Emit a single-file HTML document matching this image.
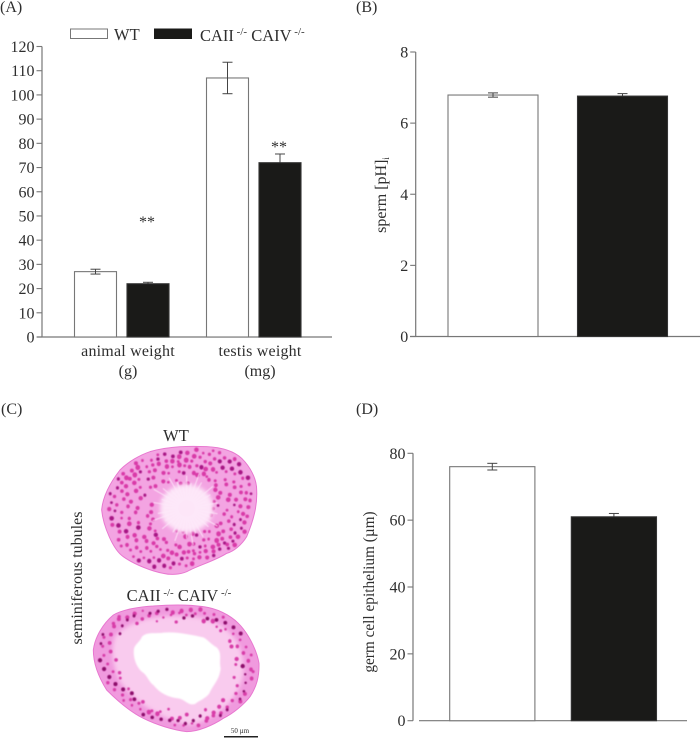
<!DOCTYPE html>
<html lang="en">
<head>
<meta charset="utf-8">
<title>Weights, sperm pH and germ cell epithelium in WT and CAII/CAIV knockout mice</title>
<style>
html,body{margin:0;padding:0;background:#fff;}
svg{display:block;}
text{font-family:"Liberation Serif",serif;fill:#2e2e2e;}
</style>
</head>
<body>
<svg id="fig" xmlns="http://www.w3.org/2000/svg" width="700" height="738" viewBox="0 0 700 738">
  <defs>
    <filter id="soft" x="-5%" y="-5%" width="110%" height="110%"><feGaussianBlur stdDeviation="2"/></filter>
    <filter id="soft2" x="-10%" y="-10%" width="120%" height="120%"><feGaussianBlur stdDeviation="6"/></filter>
    <filter id="dots" x="-2%" y="-2%" width="104%" height="104%"><feGaussianBlur stdDeviation="1.3"/></filter>
  </defs>
  <text x="0" y="12" font-size="16">(A)</text>
  <text x="356" y="12" font-size="16">(B)</text>
  <text x="1" y="414" font-size="16">(C)</text>
  <text x="356" y="414" font-size="16">(D)</text>

  <g>
    <rect x="70.5" y="29" width="37" height="9.5" fill="#fff" stroke="#777" stroke-width="1"/>
    <text x="114" y="40" font-size="16.5">WT</text>
    <rect x="154.5" y="29" width="37" height="9.5" fill="#1a1a18" stroke="#1a1a18" stroke-width="1"/>
    <text x="200" y="41" font-size="16.5">CAII<tspan font-size="11" dy="-6"> -/-</tspan><tspan dy="6"> CAIV</tspan><tspan font-size="11" dy="-6"> -/-</tspan></text>
  </g>

  <g id="panel-a"></g>
  <g id="panel-b"></g>
  <g id="panel-d"></g>

  <g>
    <text x="176" y="441" font-size="16.5" text-anchor="middle">WT</text>
    <text x="179" y="601" font-size="16.5" text-anchor="middle">CAII<tspan font-size="11" dy="-5"> -/-</tspan><tspan dy="5"> CAIV</tspan><tspan font-size="11" dy="-5"> -/-</tspan></text>
    <text transform="translate(82,578) rotate(-90)" font-size="16" text-anchor="middle">seminiferous tubules</text>
    <g transform="translate(60,410) scale(0.33333)">
      <g>
        <path id="wt-outline" fill="#f3a4e2" stroke="#e878d0" stroke-width="3" d="M125 300C128 265 145 225 180 180C205 155 240 135 270 125C330 108 390 108 440 110C480 112 520 122 545 145C570 170 590 205 590 240C592 280 585 320 560 380C545 405 520 425 500 430C470 450 420 465 390 480C370 492 340 497 310 490C280 485 225 465 190 440C160 420 130 350 125 300Z"/>
        <path id="wt-nuclei-light" fill="#d93aa8" filter="url(#dots)"/>
        <path id="wt-nuclei-dark" fill="#a81585" filter="url(#dots)"/>
        <ellipse cx="380" cy="295" rx="80" ry="72" fill="#fde6f8" filter="url(#soft2)"/>
        <path id="wt-rays" fill="none" stroke="#fdeafa" stroke-width="2.5" filter="url(#dots)"/>
      </g>
      <g>
        <path id="ko-outline" fill="#f09ade" stroke="#e878d0" stroke-width="3" d="M100 720C105 680 130 640 160 615C190 598 240 590 280 588C330 584 390 584 430 590C470 595 510 615 535 640C565 670 590 720 597 760C598 800 590 830 570 860C550 885 520 910 490 925C460 945 415 965 380 965C340 960 290 945 250 925C210 905 170 870 140 840C115 800 100 760 100 720Z"/>
        <path fill="#f9cbee" filter="url(#soft2)" d="M165 680C220 615 340 610 430 625C525 650 555 720 550 790C540 860 480 925 390 945C300 930 220 870 180 815C160 770 150 725 165 680Z"/>
        <path id="ko-nuclei-light" fill="#d83ca8" filter="url(#dots)"/>
        <path id="ko-nuclei-dark" fill="#8e0a6c" filter="url(#dots)"/>
        <path fill="#fff" filter="url(#soft)" d="M222 715C228 700 240 695 246 680C262 664 290 672 310 668C350 664 400 676 430 682C445 690 452 702 470 712C488 730 476 750 482 775C478 810 462 820 448 850C436 866 420 870 405 882C385 888 375 868 355 865C325 862 300 850 280 825C265 815 262 795 245 785C230 770 218 745 222 715Z"/>
      </g>
    </g>
    <text x="240" y="733" font-size="7" text-anchor="middle">50 µm</text>
    <rect x="224" y="736" width="34" height="1.5" fill="#222"/>
  </g>
</svg>

<script>
// Panel A data
var weightCategories = ["animal weight", "testis weight"];
var weightUnits = ["(g)", "(mg)"];
var weightWT = [27, 107];
var weightKO = [22, 72];
var weightWTErr = [1, 6.5];
var weightKOErr = [0.6, 3.6];
var weightTicks = [0, 10, 20, 30, 40, 50, 60, 70, 80, 90, 100, 110, 120];
var weightStarLevels = [48.3, 79.3];

// Panel B data
var phValues = [6.79, 6.76];
var phErrors = [0.06, 0.07];
var phTicks = [0, 2, 4, 6, 8];

// Panel D data
var epitheliumValues = [76, 61];
var epitheliumErrors = [1, 1];
var epitheliumTicks = [0, 20, 40, 60, 80];

var NS = "http://www.w3.org/2000/svg";
var BLACK = "#1a1a18";
var GREY = "#777";

function make(parent, tag, attrs, name) {
  var n = document.createElementNS(NS, tag);
  for (var k in attrs) n.setAttribute(k, attrs[k]);
  
  
  parent.appendChild(n);
  return n;
}
function scale(y0, yTop, max) {
  return function (v) { return y0 - v * (y0 - yTop) / max; };
}
function yAxis(parent, x, y, ticks, fontSize) {
  make(parent, "line", {x1: x, x2: x, y1: y(ticks[ticks.length - 1]), y2: y(0), stroke: GREY, "stroke-width": 1.2}, "y-axis");
  ticks.forEach(function (t) {
    make(parent, "line", {x1: x - 5.5, x2: x, y1: y(t), y2: y(t), stroke: GREY, "stroke-width": 1.1}, "y-axis-tick");
    var lab = make(parent, "text", {x: x - 7.5, y: y(t) + 5.5, "font-size": fontSize, "text-anchor": "end"}, "y-axis-tick-label");
    lab.textContent = t;
  });
}
function bar(parent, x, w, y, value, dark, name) {
  make(parent, "rect", {
    x: x, y: y(value), width: w, height: y(0) - y(value),
    fill: dark ? BLACK : "#fff", stroke: dark ? "#333" : GREY, "stroke-width": 1.1
  }, name);
}
function errorBar(parent, cx, y, value, err, cap, name) {
  var c = "#444";
  make(parent, "line", {x1: cx, x2: cx, y1: y(value + err), y2: y(value - err), stroke: c, "stroke-width": 1}, name + "-stem");
  make(parent, "line", {x1: cx - cap, x2: cx + cap, y1: y(value + err), y2: y(value + err), stroke: c, "stroke-width": 1}, name + "-cap-top");
  make(parent, "line", {x1: cx - cap, x2: cx + cap, y1: y(value - err), y2: y(value - err), stroke: c, "stroke-width": 1}, name + "-cap-bottom");
}

// Panel A
(function () {
  var g = document.getElementById("panel-a");
  var y = scale(337, 46.5, 120);
  yAxis(g, 42, y, weightTicks, 16);
  make(g, "line", {x1: 37, x2: 332, y1: y(0), y2: y(0), stroke: GREY, "stroke-width": 1.2}, "x-axis");
  weightCategories.forEach(function (cat, i) {
    var wtX = 74.5 + i * 132, koX = wtX + 52.5, w = 42;
    bar(g, wtX, w, y, weightWT[i], false, "bar-wt-" + i);
    errorBar(g, koX + w / 2, y, weightKO[i], weightKOErr[i], 5, "error-knockout-" + i);
    bar(g, koX, w, y, weightKO[i], true, "bar-knockout-" + i);
    errorBar(g, wtX + w / 2, y, weightWT[i], weightWTErr[i], 5, "error-wt-" + i);
    var cx = 128 + i * 132;
    var a = make(g, "text", {x: cx, y: 356, "font-size": 16, "text-anchor": "middle", "letter-spacing": 0.2}, "x-axis-category-label");
    a.textContent = cat;
    var b = make(g, "text", {x: cx, y: 376, "font-size": 16, "text-anchor": "middle"}, "x-axis-unit-label");
    b.textContent = weightUnits[i];
    var s = make(g, "text", {x: koX + w / 2 - 1, y: y(weightStarLevels[i]) + 7, "font-size": 16, "text-anchor": "middle"}, "significance-marker");
    s.textContent = "**";
  });
})();

// Panel B
(function () {
  var g = document.getElementById("panel-b");
  var y = scale(336.5, 52, 8);
  yAxis(g, 415.7, y, phTicks, 16);
  make(g, "line", {x1: 410, x2: 700, y1: y(0), y2: y(0), stroke: GREY, "stroke-width": 1.2}, "x-axis");
  phValues.forEach(function (v, i) {
    var x = 448 + i * 129.5, w = 90;
    if (i === 1) errorBar(g, x + w / 2, y, v, phErrors[i], 5, "error-knockout");
    bar(g, x, w, y, v, i === 1, "bar-" + (i ? "knockout" : "wt"));
    if (i === 0) errorBar(g, x + w / 2, y, v, phErrors[i], 5, "error-wt");
  });
  var t = make(g, "text", {transform: "translate(386,195) rotate(-90)", "font-size": 16, "text-anchor": "middle"}, "y-axis-title");
  t.innerHTML = 'sperm [pH]<tspan font-size="9" dy="3">i</tspan>';
})();

// Panel D
(function () {
  var g = document.getElementById("panel-d");
  var y = scale(720.7, 453.3, 80);
  yAxis(g, 413, y, epitheliumTicks, 16);
  make(g, "line", {x1: 419, x2: 687, y1: y(0), y2: y(0), stroke: GREY, "stroke-width": 1.2}, "x-axis");
  epitheliumValues.forEach(function (v, i) {
    var x = 449.7 + i * 121.6, w = 85.2;
    if (i === 1) errorBar(g, x + w / 2, y, v, epitheliumErrors[i], 5, "error-knockout");
    bar(g, x, w, y, v, i === 1, "bar-" + (i ? "knockout" : "wt"));
    if (i === 0) errorBar(g, x + w / 2, y, v, epitheliumErrors[i], 5, "error-wt");
  });
  var t = make(g, "text", {transform: "translate(374,592) rotate(-90)", "font-size": 15.3, "text-anchor": "middle"}, "y-axis-title");
  t.textContent = "germ cell epithelium (µm)";
})();

// Decorative histology texture: nuclei scattered by golden-ratio stepping
function scatter(outlineId, lightId, darkId, cx, cy, minR, count, size) {
  var outline = document.getElementById(outlineId);
  var len = outline.getTotalLength();
  var light = "", dark = "";
  for (var i = 1; i <= count; i++) {
    var f = (i * 0.6180339887) % 1;
    var p = outline.getPointAtLength(f * len);
    var r = minR + (0.95 - minR) * Math.sqrt((i * 0.7548776662) % 1);
    var x = cx + (p.x - cx) * r, y = cy + (p.y - cy) * r;
    var s = size * (0.7 + 0.6 * ((i * 0.5698402910) % 1));
    var isDark = r > 0.8 ? i % 3 === 0 : i % 9 === 0;
    var d = "M" + (x - s).toFixed(1) + " " + y.toFixed(1) + "a" + s.toFixed(1) + " " + s.toFixed(1) + " 0 1 0 " + (2 * s).toFixed(1) + " 0a" + s.toFixed(1) + " " + s.toFixed(1) + " 0 1 0 " + (-2 * s).toFixed(1) + " 0Z";
    if (isDark) dark += d; else light += d;
  }
  document.getElementById(lightId).setAttribute("d", light);
  document.getElementById(darkId).setAttribute("d", dark);
}
scatter("wt-outline", "wt-nuclei-light", "wt-nuclei-dark", 380, 295, 0.3, 240, 5.5);
scatter("ko-outline", "ko-nuclei-light", "ko-nuclei-dark", 350, 770, 0.68, 130, 5);

var rays = "";
for (var k = 0; k < 36; k++) {
  var ang = k * Math.PI * 2 / 36;
  var rr = 60 + 55 * ((k * 0.618) % 1);
  rays += "M" + (380 + 25 * Math.cos(ang)).toFixed(1) + " " + (295 + 25 * Math.sin(ang)).toFixed(1) +
          "L" + (380 + rr * Math.cos(ang)).toFixed(1) + " " + (295 + rr * Math.sin(ang)).toFixed(1);
}
document.getElementById("wt-rays").setAttribute("d", rays);
</script>
</body>
</html>
